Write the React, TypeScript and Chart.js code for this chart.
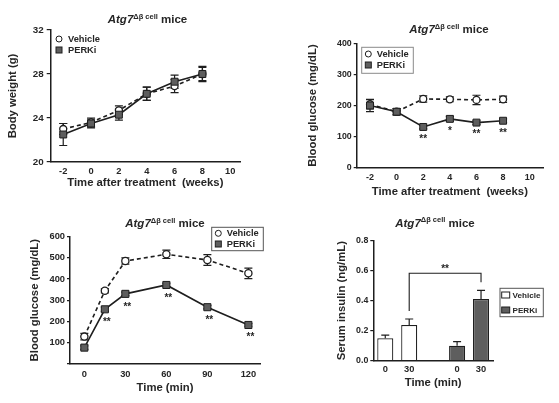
import React, { useEffect, useRef } from 'react';
import { Chart, registerables } from 'chart.js';

Chart.register(...registerables);

const FONT = '"Liberation Sans", Arial, Helvetica, sans-serif';
const INK = '#1e1e1e';
const TEXT = '#262626';
const PERKI_FILL = '#5e5e5e';

// ---------- Panel A: body weight ----------
const weeks = [-2, 0, 2, 4, 6, 8];
const weekTicks = [-2, 0, 2, 4, 6, 8, 10];
const bodyWeightTicks = [20, 24, 28, 32];
const bwVehicle = [23.0, 23.6, 24.7, 26.2, 26.9, 28.0];
const bwVehicleErr = [0.5, 0.4, 0.4, 0.6, 0.6, 0.6];
const bwPerki = [22.5, 23.5, 24.3, 26.2, 27.3, 28.0];
const bwPerkiErr = [1.0, 0.4, 0.5, 0.6, 0.6, 0.7];

// ---------- Panel B: blood glucose over weeks ----------
const glucoseWeekTicks = [0, 100, 200, 300, 400];
const bgVehicle = [204, 180, 221, 220, 218, 220];
const bgVehicleErr = [15, 10, 10, 8, 15, 10];
const bgPerki = [200, 180, 131, 157, 145, 151];
const bgPerkiErr = [20, 10, 6, 8, 6, 6];
const bgStars = ['', '', '**', '*', '**', '**'];

// ---------- Panel C: glucose tolerance ----------
const minutes = [0, 15, 30, 60, 90, 120];
const minuteTicks = [0, 30, 60, 90, 120];
const glucoseGttTicks = [0, 100, 200, 300, 400, 500, 600];
const gttVehicle = [128, 345, 485, 517, 490, 427];
const gttVehicleErr = [15, 10, 15, 20, 25, 25];
const gttPerki = [76, 257, 330, 372, 267, 183];
const gttPerkiErr = [8, 10, 8, 8, 8, 6];
const gttStars = ['', '**', '**', '**', '**', '**'];

// ---------- Panel D: serum insulin ----------
const insulinLabels = ['0', '30', '', '0', '30'];
const insulinTicks = [0, 0.2, 0.4, 0.6, 0.8];
const insulinVehicle = [0.149, 0.238, null, null, null];
const insulinVehicleErr = [0.022, 0.04, null, null, null];
const insulinPerki = [null, null, null, 0.1, 0.411];
const insulinPerkiErr = [null, null, null, 0.027, 0.058];

const tickFont = (size: number) => ({ family: FONT, size, weight: 'bold' as const });
const axisTitleFont = { family: FONT, size: 11.3, weight: 'bold' as const, lineHeight: 1.2 };

// ---------- plugins ----------
const valueOf = (raw: any) => (raw !== null && typeof raw === 'object' ? raw.y : raw);

const errorBarPlugin = {
  id: 'errorBars',
  beforeDatasetsDraw(chart: any, _a: any, opts: any) {
    const ctx = chart.ctx;
    const ys = chart.scales.y;
    ctx.save();
    ctx.strokeStyle = INK;
    ctx.lineWidth = opts.lineWidth || 1.2;
    chart.data.datasets.forEach((ds: any, di: number) => {
      const errs = ds.errors;
      if (!errs) return;
      const meta = chart.getDatasetMeta(di);
      meta.data.forEach((el: any, i: number) => {
        const v = valueOf(ds.data[i]);
        const e = errs[i];
        if (v == null || e == null) return;
        const x = el.x;
        const top = ys.getPixelForValue(v + e);
        const bot = opts.upOnly ? ys.getPixelForValue(v) : ys.getPixelForValue(v - e);
        const cap = opts.cap || 4;
        ctx.beginPath();
        ctx.moveTo(x, top);
        ctx.lineTo(x, bot);
        ctx.moveTo(x - cap, top);
        ctx.lineTo(x + cap, top);
        if (!opts.upOnly) {
          ctx.moveTo(x - cap, bot);
          ctx.lineTo(x + cap, bot);
        }
        ctx.stroke();
      });
    });
    ctx.restore();
  },
};

const starsPlugin = {
  id: 'stars',
  afterDatasetsDraw(chart: any, _a: any, opts: any) {
    if (!opts || !opts.labels) return;
    const ctx = chart.ctx;
    const ys = chart.scales.y;
    const ds = chart.data.datasets[opts.dataset];
    const meta = chart.getDatasetMeta(opts.dataset);
    ctx.save();
    ctx.fillStyle = TEXT;
    ctx.font = `bold 10px ${FONT}`;
    ctx.textAlign = 'center';
    ctx.textBaseline = 'alphabetic';
    opts.labels.forEach((s: string, i: number) => {
      if (!s) return;
      const v = valueOf(ds.data[i]);
      const e = (ds.errors && ds.errors[i]) || 0;
      const y = ys.getPixelForValue(v - e) + opts.gap;
      ctx.fillText(s, meta.data[i].x + (opts.dx || 0), y);
    });
    ctx.restore();
  },
};

const titlePlugin = {
  id: 'panelTitle',
  afterDraw(chart: any, _a: any, opts: any) {
    const ctx = chart.ctx;
    const parts = [
      { text: 'Atg7', font: `italic bold 11.5px ${FONT}`, dy: 0 },
      { text: '\u0394\u03b2 cell', font: `bold 7.5px ${FONT}`, dy: -4.5 },
      { text: ' mice', font: `bold 11.5px ${FONT}`, dy: 0 },
    ];
    ctx.save();
    ctx.fillStyle = TEXT;
    ctx.textBaseline = 'alphabetic';
    ctx.textAlign = 'left';
    let total = 0;
    const widths = parts.map((p) => {
      ctx.font = p.font;
      const w = ctx.measureText(p.text).width;
      total += w;
      return w;
    });
    let x = opts.x - total / 2;
    parts.forEach((p, i) => {
      ctx.font = p.font;
      ctx.fillText(p.text, x, opts.y + p.dy);
      x += widths[i];
    });
    ctx.restore();
  },
};

const legendPlugin = {
  id: 'panelLegend',
  afterDraw(chart: any, _a: any, opts: any) {
    const ctx = chart.ctx;
    ctx.save();
    if (opts.box) {
      const [x1, y1, x2, y2] = opts.box;
      ctx.strokeStyle = opts.boxColor || '#666';
      ctx.lineWidth = 1;
      ctx.strokeRect(x1, y1, x2 - x1, y2 - y1);
    }
    ctx.font = `bold ${opts.fontSize || 9.3}px ${FONT}`;
    ctx.textBaseline = 'middle';
    ctx.textAlign = 'left';
    opts.rows.forEach((y: number, k: number) => {
      const ds = chart.data.datasets[k];
      const mx = opts.markerX;
      ctx.lineWidth = 1;
      ctx.strokeStyle = INK;
      if (opts.barIcons) {
        ctx.fillStyle = ds.backgroundColor;
        ctx.fillRect(mx - 4, y - 3, 8, 6);
        ctx.strokeRect(mx - 4, y - 3, 8, 6);
      } else if (ds.pointStyle === 'circle') {
        ctx.fillStyle = ds.pointBackgroundColor;
        ctx.beginPath();
        ctx.arc(mx, y, 3, 0, Math.PI * 2);
        ctx.fill();
        ctx.stroke();
      } else {
        ctx.fillStyle = ds.pointBackgroundColor;
        ctx.fillRect(mx - 3, y - 3, 6, 6);
        ctx.strokeRect(mx - 3, y - 3, 6, 6);
      }
      ctx.fillStyle = TEXT;
      ctx.fillText(ds.label, opts.textX, y + 0.5);
    });
    ctx.restore();
  },
};

const bracketPlugin = {
  id: 'bracket',
  afterDatasetsDraw(chart: any, _a: any, opts: any) {
    if (!opts || opts.from == null) return;
    const ctx = chart.ctx;
    const ys = chart.scales.y;
    const xs = chart.scales.x;
    const dsL = chart.data.datasets[opts.fromDataset];
    const dsR = chart.data.datasets[opts.toDataset];
    const xl = xs.getPixelForValue(opts.from);
    const xr = xs.getPixelForValue(opts.to);
    const yTop = ys.getPixelForValue(opts.level);
    const yl = ys.getPixelForValue(dsL.data[opts.from] + dsL.errors[opts.from]) - opts.gap;
    const yr = ys.getPixelForValue(dsR.data[opts.to] + dsR.errors[opts.to]) - opts.gap;
    ctx.save();
    ctx.strokeStyle = INK;
    ctx.lineWidth = 1.1;
    ctx.beginPath();
    ctx.moveTo(xl, yl);
    ctx.lineTo(xl, yTop);
    ctx.lineTo(xr, yTop);
    ctx.lineTo(xr, yr);
    ctx.stroke();
    ctx.fillStyle = TEXT;
    ctx.font = `bold 10px ${FONT}`;
    ctx.textAlign = 'center';
    ctx.textBaseline = 'alphabetic';
    ctx.fillText(opts.label, (xl + xr) / 2, yTop - 1);
    ctx.restore();
  },
};

// ---------- config builders ----------
function lineDatasets(xs: number[], veh: number[], vehErr: number[], per: number[], perErr: number[], r: number) {
  return [
    {
      label: 'Vehicle',
      data: xs.map((x, i) => ({ x, y: veh[i] })),
      errors: vehErr,
      borderColor: INK,
      borderWidth: 1.6,
      borderDash: [4, 3],
      pointStyle: 'circle',
      pointRadius: r,
      pointBackgroundColor: '#ffffff',
      pointBorderColor: INK,
      pointBorderWidth: 1.3,
      order: 1,
      tension: 0,
    },
    {
      label: 'PERKi',
      data: xs.map((x, i) => ({ x, y: per[i] })),
      errors: perErr,
      borderColor: INK,
      borderWidth: 1.6,
      pointStyle: 'rect',
      pointRadius: r + 1.4,
      pointBackgroundColor: PERKI_FILL,
      pointBorderColor: INK,
      pointBorderWidth: 1,
      order: 0,
      tension: 0,
    },
  ];
}

function yAxis(p: any) {
  return {
    type: 'linear',
    min: p.min,
    max: p.max,
    afterBuildTicks: (axis: any) => {
      axis.ticks = p.ticks.map((value: number) => ({ value }));
    },
    afterFit: (scale: any) => {
      scale.width = p.width;
    },
    grid: { display: true, drawOnChartArea: false, drawTicks: true, tickLength: p.tickLength || 3, color: INK, lineWidth: 1.2 },
    border: { display: true, color: INK, width: 1.5 },
    ticks: {
      font: tickFont(p.tickSize || 9.3),
      color: TEXT,
      padding: p.tickPad || 2,
      callback: p.format || ((v: number) => String(v)),
    },
    title: { display: true, text: p.title, font: axisTitleFont, color: TEXT, padding: { top: p.titlePad, bottom: 0 } },
  };
}

function xAxisLinear(p: any) {
  return {
    type: 'linear',
    min: p.min,
    max: p.max,
    afterBuildTicks: (axis: any) => {
      axis.ticks = p.ticks.map((value: number) => ({ value }));
    },
    afterFit: (scale: any) => {
      scale.height = p.height;
    },
    grid: { display: false, drawTicks: false },
    border: { display: true, color: INK, width: 1.5 },
    ticks: { font: tickFont(p.tickSize || 9.3), color: TEXT, padding: p.tickPad, maxRotation: 0, autoSkip: false },
    title: { display: true, text: p.title, font: axisTitleFont, color: TEXT, padding: { top: 0, bottom: p.titlePad } },
  };
}

const basePlugins = [errorBarPlugin, starsPlugin, bracketPlugin, titlePlugin, legendPlugin];
const noDefaults = { legend: { display: false }, title: { display: false }, tooltip: { enabled: false } };

function panelA() {
  return {
    type: 'line',
    data: { datasets: lineDatasets(weeks, bwVehicle, bwVehicleErr, bwPerki, bwPerkiErr, 3.5) },
    plugins: basePlugins,
    options: {
      responsive: false,
      animation: false,
      layout: { padding: { top: 30, right: 40, left: 0, bottom: 0 } },
      scales: {
        x: xAxisLinear({ min: -2.9, max: 10.7, ticks: weekTicks, height: 38, tickPad: 4, title: 'Time after treatment  (weeks)', titlePad: 10.2 }),
        y: yAxis({ min: 20, max: 32, ticks: bodyWeightTicks, width: 50.7, title: 'Body weight (g)', titlePad: 6.2, tickLength: 4, tickPad: 3, tickSize: 9.8 }),
      },
      plugins: {
        ...noDefaults,
        errorBars: { cap: 4 },
        panelTitle: { x: 147.5, y: 23 },
        panelLegend: { rows: [39, 50], markerX: 59, textX: 68 },
      },
    },
  };
}

function panelB() {
  return {
    type: 'line',
    data: { datasets: lineDatasets(weeks, bgVehicle, bgVehicleErr, bgPerki, bgPerkiErr, 3.5) },
    plugins: basePlugins,
    options: {
      responsive: false,
      animation: false,
      layout: { padding: { top: 43.3, right: 16, left: 0, bottom: 0 } },
      scales: {
        x: xAxisLinear({ min: -3, max: 11, ticks: weekTicks, height: 32.3, tickPad: 4, title: 'Time after treatment  (weeks)', titlePad: 1.2, tickSize: 9 }),
        y: yAxis({ min: 0, max: 400, ticks: glucoseWeekTicks, width: 76.7, title: 'Blood glucose (mg/dL)', titlePad: 26.2, tickSize: 8.8 }),
      },
      plugins: {
        ...noDefaults,
        errorBars: { cap: 4 },
        stars: { dataset: 1, labels: bgStars, gap: 13 },
        panelTitle: { x: 169, y: 33 },
        panelLegend: { box: [81.7, 47.3, 133.3, 73.3], boxColor: '#8a8a8a', rows: [54, 65], markerX: 88.3, textX: 96.7 },
      },
    },
  };
}

function panelC() {
  return {
    type: 'line',
    data: { datasets: lineDatasets(minutes, gttVehicle, gttVehicleErr, gttPerki, gttPerkiErr, 3.6) },
    plugins: basePlugins,
    options: {
      responsive: false,
      animation: false,
      layout: { padding: { top: 36.7, right: 20, left: 0, bottom: 0 } },
      scales: {
        x: xAxisLinear({ min: -10.5, max: 128.5, ticks: minuteTicks, height: 39.3, tickPad: 5, title: 'Time (min)', titlePad: 8.2 }),
        y: yAxis({
          min: 0,
          max: 600,
          ticks: glucoseGttTicks,
          width: 70,
          title: 'Blood glucose (mg/dL)',
          titlePad: 28.2,
          format: (v: number) => (v === 0 ? '' : String(v)),
        }),
      },
      plugins: {
        ...noDefaults,
        errorBars: { cap: 4 },
        stars: { dataset: 1, labels: gttStars, gap: 14, dx: 2 },
        panelTitle: { x: 165, y: 27.3 },
        panelLegend: { box: [211.7, 27.3, 263.3, 50.7], boxColor: '#555555', rows: [33.3, 44], markerX: 218.3, textX: 226.7 },
      },
    },
  };
}

function panelD() {
  return {
    type: 'bar',
    data: {
      labels: insulinLabels,
      datasets: [
        {
          label: 'Vehicle',
          data: insulinVehicle,
          errors: insulinVehicleErr,
          backgroundColor: '#ffffff',
          borderColor: INK,
          borderWidth: 1.2,
          grouped: false,
          barPercentage: 0.67,
          categoryPercentage: 1,
        },
        {
          label: 'PERKi',
          data: insulinPerki,
          errors: insulinPerkiErr,
          backgroundColor: PERKI_FILL,
          borderColor: INK,
          borderWidth: 1.2,
          grouped: false,
          barPercentage: 0.67,
          categoryPercentage: 1,
        },
      ],
    },
    plugins: basePlugins,
    options: {
      responsive: false,
      animation: false,
      layout: { padding: { top: 40.7, right: 66, left: 0, bottom: 0 } },
      scales: {
        x: {
          type: 'category',
          afterFit: (scale: any) => {
            scale.height = 42.3;
          },
          grid: { display: false, drawTicks: false },
          border: { display: true, color: INK, width: 1.5 },
          ticks: { font: tickFont(9.3), color: TEXT, padding: 3, maxRotation: 0, autoSkip: false },
          title: { display: true, text: 'Time (min)', font: axisTitleFont, color: TEXT, padding: { top: 0, bottom: 13.5 } },
        },
        y: yAxis({
          min: 0,
          max: 0.8,
          ticks: insulinTicks,
          width: 93.3,
          title: 'Serum insulin (ng/mL)',
          titlePad: 54.9,
          tickSize: 8.8,
          format: (v: number) => v.toFixed(1),
        }),
      },
      plugins: {
        ...noDefaults,
        errorBars: { cap: 4, upOnly: true },
        bracket: { from: 1, to: 4, fromDataset: 0, toDataset: 1, level: 0.583, gap: 8, label: '**' },
        panelTitle: { x: 155, y: 26.7 },
        panelLegend: {
          box: [220, 88.3, 263.3, 116.7],
          boxColor: '#555555',
          rows: [95, 110],
          markerX: 225.7,
          textX: 232.5,
          barIcons: true,
          fontSize: 8.1,
        },
      },
    },
  };
}

function Panel({ left, top, width, height, make }: { left: number; top: number; width: number; height: number; make: () => any }) {
  const ref = useRef<HTMLCanvasElement>(null);
  useEffect(() => {
    if (!ref.current) return;
    const chart = new Chart(ref.current, make());
    return () => chart.destroy();
  }, []);
  return (
    <div style={{ position: 'absolute', left, top, width, height }}>
      <canvas ref={ref} width={width} height={height} style={{ width, height, display: 'block' }} />
    </div>
  );
}

export default function App() {
  return (
    <div style={{ position: 'fixed', left: 0, top: 0, width: 559, height: 403, background: '#ffffff', overflow: 'hidden' }}>
      <Panel left={0} top={0} width={280} height={200} make={panelA} />
      <Panel left={280} top={0} width={279} height={200} make={panelB} />
      <Panel left={0} top={200} width={280} height={203} make={panelC} />
      <Panel left={280} top={200} width={279} height={203} make={panelD} />
    </div>
  );
}
